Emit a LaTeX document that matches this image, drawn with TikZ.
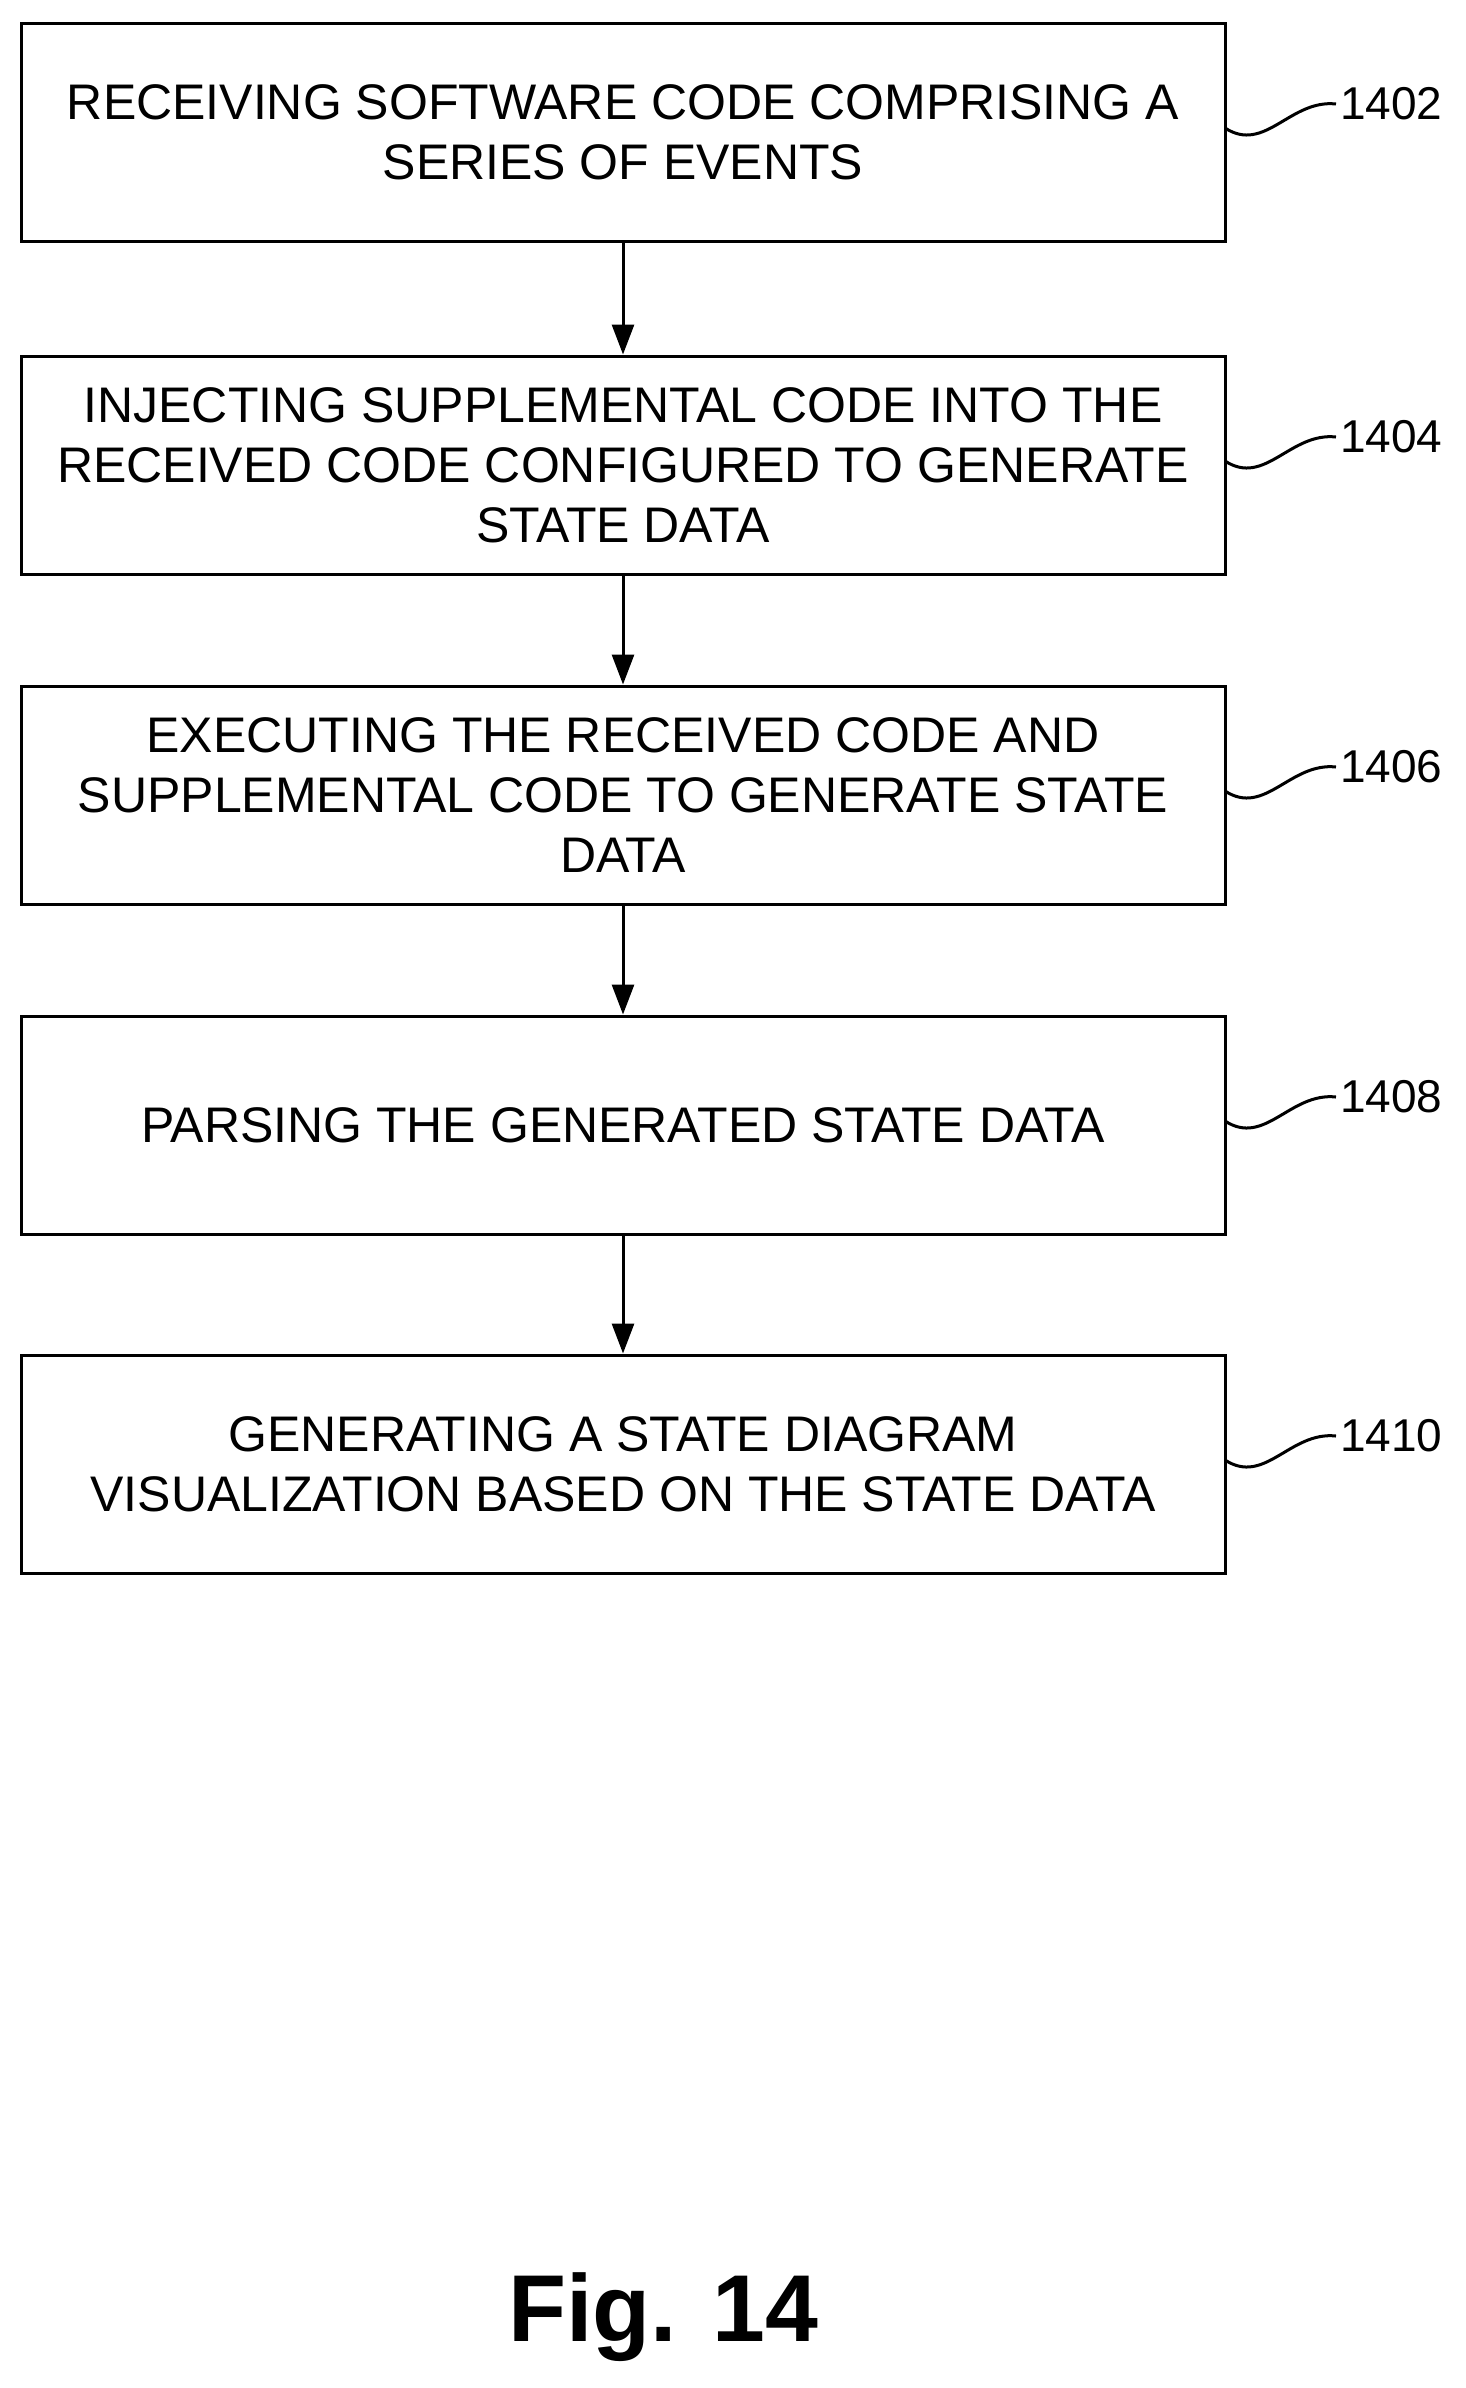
\documentclass[tikz,border=0pt]{standalone}
\usepackage{fontspec}
\setmainfont{Liberation Sans}
\usetikzlibrary{arrows.meta}
\begin{document}
\begin{tikzpicture}[x=1pt,y=-1pt,
  box/.style={draw,line width=3pt,minimum width=1204pt,minimum height=218pt,align=center,font=\fontsize{50}{60}\selectfont,inner sep=0pt},
  lab/.style={font=\fontsize{46}{54}\selectfont,anchor=west,inner sep=0pt},
  arr/.style={line width=3pt,-{Triangle[length=30pt,width=22pt]}},
  sq/.style={line width=3pt}]
\useasboundingbox (0,0) rectangle (1465,2388);
\node[box] (b1) at (623,132) {RECEIVING SOFTWARE CODE COMPRISING A\\SERIES OF EVENTS};
\node[box] (b2) at (623,465) {INJECTING SUPPLEMENTAL CODE INTO THE\\RECEIVED CODE CONFIGURED TO GENERATE\\STATE DATA};
\node[box] (b3) at (623,795) {EXECUTING THE RECEIVED CODE AND\\SUPPLEMENTAL CODE TO GENERATE STATE\\DATA};
\node[box] (b4) at (623,1125) {PARSING THE GENERATED STATE DATA};
\node[box] (b5) at (623,1464) {GENERATING A STATE DIAGRAM\\VISUALIZATION BASED ON THE STATE DATA};
\foreach \b/\n/\y in {b1/1402/104, b2/1404/437, b3/1406/767, b4/1408/1097, b5/1410/1436}{
  \node[lab] (l\n) at (1340,\y) {\n};
  \coordinate (s\n) at (1225,\y+24);
  \draw[sq] (s\n) .. controls (1265,\y+50) and (1290,\y-5) .. (1336,\y);
}
\draw[arr] (b1) -- (b2);
\draw[arr] (b2) -- (b3);
\draw[arr] (b3) -- (b4);
\draw[arr] (b4) -- (b5);
\node[font=\fontsize{95}{110}\selectfont\bfseries] (fig) at (663,2317) {Fig. 14};
\end{tikzpicture}
\end{document}
